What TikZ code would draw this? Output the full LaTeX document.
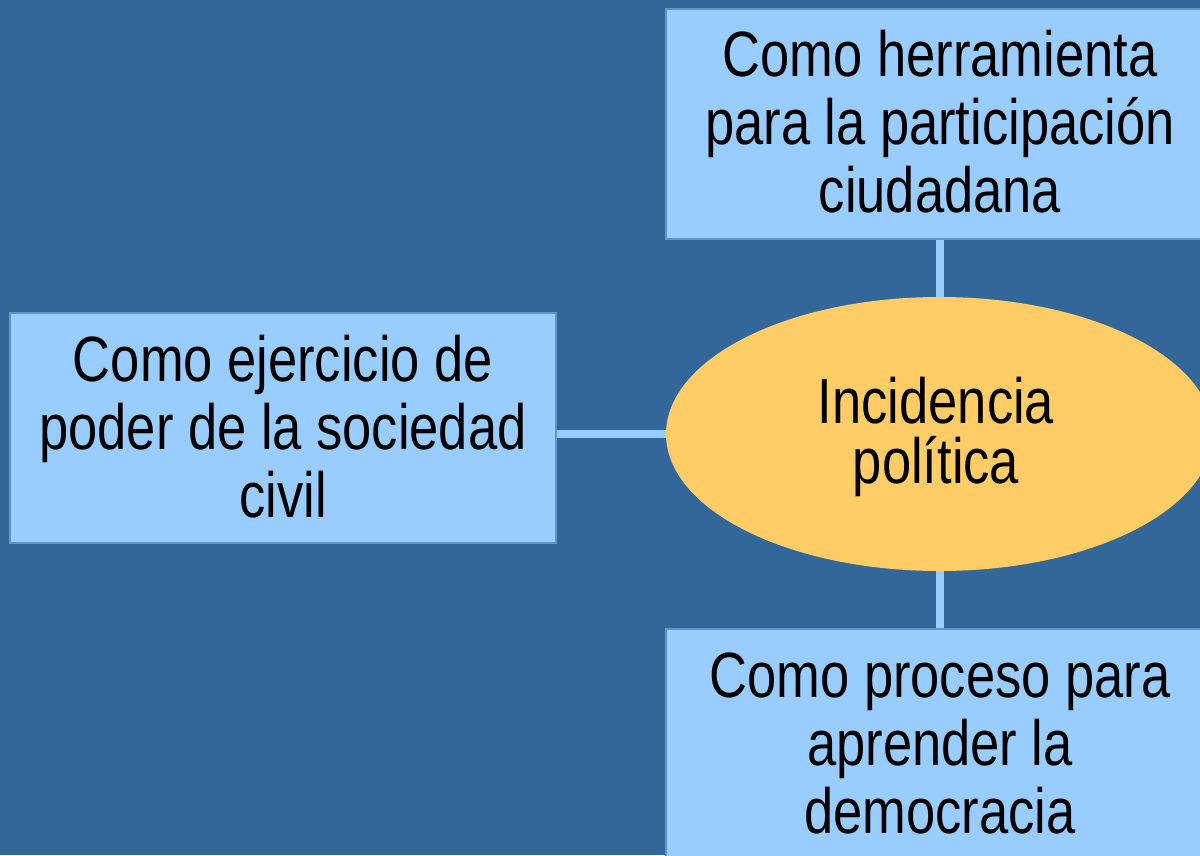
\documentclass[tikz,border=0pt]{standalone}
\usepackage{fontspec}
\setmainfont{Liberation Sans}[FakeStretch=0.82]
\usetikzlibrary{shapes.geometric}
\definecolor{bgblue}{HTML}{336699}
\definecolor{boxblue}{HTML}{99CCFF}
\definecolor{edgeblue}{HTML}{6294CA}
\definecolor{ellfill}{HTML}{FFCC66}
\tikzset{
  boxshape/.style={rectangle, fill=boxblue, draw=edgeblue, line width=1.5pt, inner sep=0pt},
  ellshape/.style={ellipse, fill=ellfill, draw=none, inner sep=0pt, minimum width=547pt, minimum height=274pt},
  label/.style={align=center, inner sep=0pt, text=black, font=\fontsize{64}{68}\selectfont},
  ellabel/.style={align=center, inner sep=0pt, text=black, font=\fontsize{64}{60}\selectfont},
  link/.style={draw=boxblue, line width=8pt}
}
\begin{document}
\begin{tikzpicture}[x=1pt,y=-1pt]
\fill[bgblue] (0,0) rectangle (1200,855);
\useasboundingbox (0,0) rectangle (1200,855);
\node[boxshape, minimum width=548pt, minimum height=230pt] (top) at (940,124) {};
\node[boxshape, minimum width=546pt, minimum height=230pt] (left) at (283,428) {};
\node[boxshape, minimum width=548pt, minimum height=228pt] (bottom) at (940,743) {};
\node[ellshape] (ell) at (939.5,434) {};
\draw[link] (top.south -| ell.north) -- (ell.north);
\draw[link] (ell.south) -- (bottom.north -| ell.south);
\draw[link] (ell.west) -- (ell.west -| left.east);
\node[label] (toptext) at (940,122) {Como herramienta\\para la participación\\ciudadana};
\node[label] (lefttext) at (283,426.5) {Como ejercicio de\\poder de la sociedad\\civil};
\node[ellabel] (elltext) at (936,437) {Incidencia\\política};
\node[label] (bottomtext) at (940,743) {Como proceso para\\aprender la\\democracia};
\end{tikzpicture}
\end{document}
